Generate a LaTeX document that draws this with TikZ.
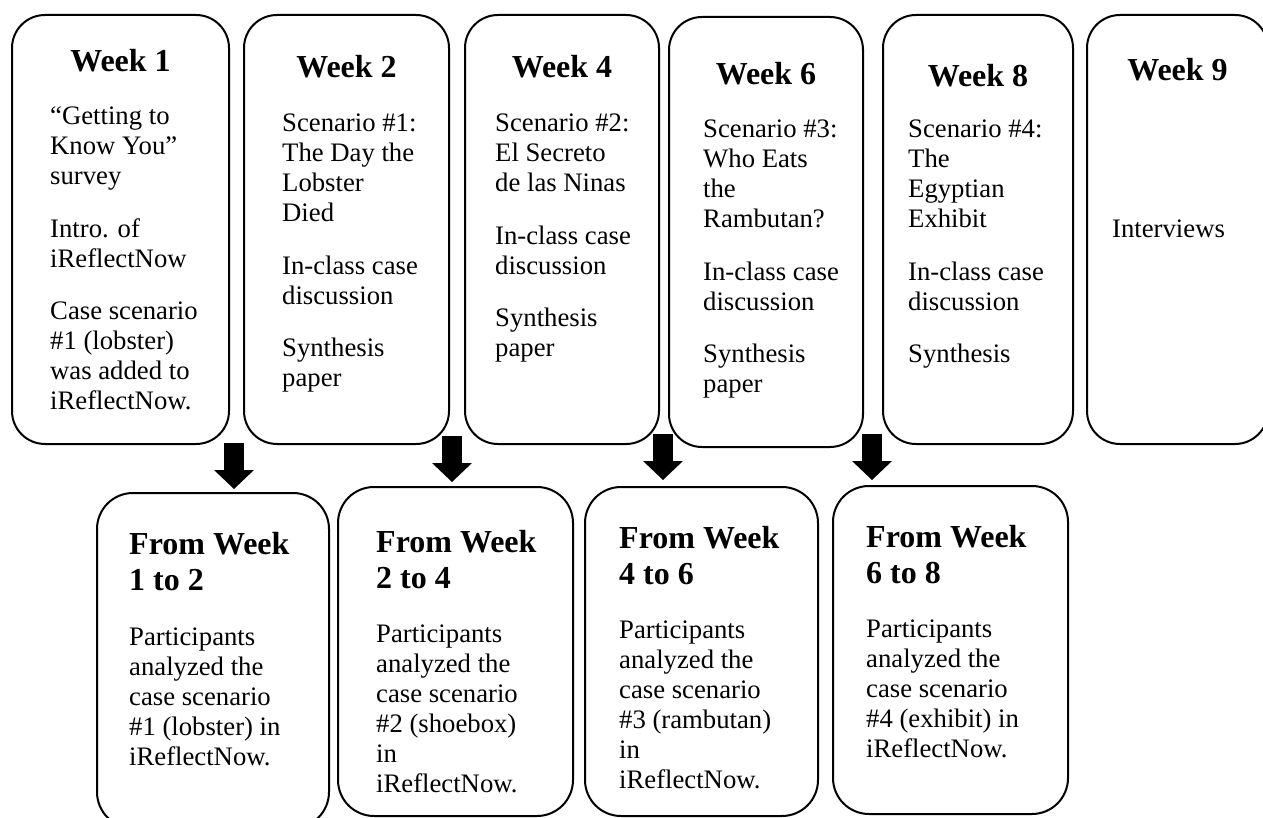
\documentclass[tikz,border=0pt]{standalone}
\usepackage{fontspec}
\setmainfont{Liberation Serif}
\usetikzlibrary{arrows.meta,calc}
% left-aligned block of lines, aligned on the baseline of its first line
\newcommand{\boxlines}[1]{\parbox[t]{240pt}{\raggedright #1}}
\newcommand{\pgap}{\\[22.5pt]}
\begin{document}
\begin{tikzpicture}[x=1pt,y=-1pt,
  weekbox/.style={draw, line width=2pt, rounded corners=33pt, inner sep=0pt},
  spanbox/.style={draw, line width=2pt, rounded corners=36pt, inner sep=0pt},
  headtext/.style={anchor=base, inner sep=0pt, font=\fontsize{32}{36}\selectfont\bfseries},
  spanhead/.style={anchor=base west, inner sep=0pt, font=\fontsize{32}{36}\selectfont\bfseries},
  bodytext/.style={anchor=base west, inner sep=0pt, font=\fontsize{26.7}{30}\selectfont},
  blockarrow/.style={line width=20pt, -{Triangle[width=40pt,length=19pt,line width=0pt]}}]
\useasboundingbox (0,0) rectangle (1263,818);
\clip (0,0) rectangle (1263,818);

% weekly activities
\node[weekbox, minimum width=217pt, minimum height=429pt] (w1) at (120.5,229.5) {};
\node[weekbox, minimum width=205pt, minimum height=429pt] (w2) at (346.5,229.5) {};
\node[weekbox, minimum width=194pt, minimum height=429pt] (w4) at (562,229.5) {};
\node[weekbox, minimum width=194pt, minimum height=430pt] (w6) at (766,232) {};
\node[weekbox, minimum width=190pt, minimum height=429pt] (w8) at (978,229.5) {};
\node[weekbox, minimum width=181pt, minimum height=429pt] (w9) at (1177.5,229.5) {};

\node[headtext] (w1h) at (w1.center |- 0,72) {Week 1};
\node[headtext] (w2h) at (w2.center |- 0,78) {Week 2};
\node[headtext] (w4h) at (w4.center |- 0,78) {Week 4};
\node[headtext] (w6h) at (w6.center |- 0,85) {Week 6};
\node[headtext] (w8h) at (w8.center |- 0,87) {Week 8};
\node[headtext] (w9h) at (w9.center |- 0,81) {Week 9};

\node[bodytext] (w1t) at (50,125) {\boxlines{“Getting to\\Know You”\\survey\pgap Intro. of\\iReflectNow\pgap Case scenario\\\#1 (lobster)\\was added to\\iReflectNow.}};
\node[bodytext] (w2t) at (282,132) {\boxlines{Scenario \#1:\\The Day the\\Lobster\\Died\pgap In-class case\\discussion\pgap Synthesis\\paper}};
\node[bodytext] (w4t) at (495,132) {\boxlines{Scenario \#2:\\El Secreto\\de las Ninas\pgap In-class case\\discussion\pgap Synthesis\\paper}};
\node[bodytext] (w6t) at (703,138) {\boxlines{Scenario \#3:\\Who Eats\\the\\Rambutan?\pgap In-class case\\discussion\pgap Synthesis\\paper}};
\node[bodytext] (w8t) at (908,138) {\boxlines{Scenario \#4:\\The\\Egyptian\\Exhibit\pgap In-class case\\discussion\pgap Synthesis}};
\node[bodytext] (w9t) at (1112,238) {Interviews};

% work done between the weeks
\node[spanbox, minimum width=232pt, minimum height=335pt] (f12) at (213,660.5) {};
\node[spanbox, minimum width=235pt, minimum height=329pt] (f24) at (455.5,651.5) {};
\node[spanbox, minimum width=233pt, minimum height=329pt] (f46) at (701.5,651.5) {};
\node[spanbox, minimum width=235pt, minimum height=328pt] (f68) at (950.5,650) {};

\node[spanhead] (f12h) at (129,554) {\boxlines{From Week\\1 to 2}};
\node[spanhead] (f24h) at (376,552) {\boxlines{From Week\\2 to 4}};
\node[spanhead] (f46h) at (619,548) {\boxlines{From Week\\4 to 6}};
\node[spanhead] (f68h) at (866,547) {\boxlines{From Week\\6 to 8}};

\node[bodytext] (f12t) at (129,645) {\boxlines{Participants\\analyzed the\\case scenario\\\#1 (lobster) in\\iReflectNow.}};
\node[bodytext] (f24t) at (376,642) {\boxlines{Participants\\analyzed the\\case scenario\\\#2 (shoebox)\\in\\iReflectNow.}};
\node[bodytext] (f46t) at (619,638) {\boxlines{Participants\\analyzed the\\case scenario\\\#3 (rambutan)\\in\\iReflectNow.}};
\node[bodytext] (f68t) at (866,637) {\boxlines{Participants\\analyzed the\\case scenario\\\#4 (exhibit) in\\iReflectNow.}};

% block arrows from the week row down to the interval boxes
\coordinate (a1s) at (234,443);
\coordinate (a2s) at (452,436);
\coordinate (a3s) at (663,434);
\coordinate (a4s) at (872,434);
\draw[blockarrow] (a1s) -- ([yshift=3pt]a1s |- f12.north);
\draw[blockarrow] (a2s) -- ([yshift=4pt]a2s |- f24.north);
\draw[blockarrow] (a3s) -- ([yshift=6pt]a3s |- f46.north);
\draw[blockarrow] (a4s) -- ([yshift=5pt]a4s |- f68.north);
\end{tikzpicture}
\end{document}
